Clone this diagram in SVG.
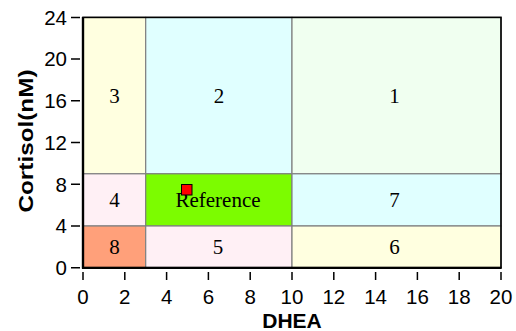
<svg xmlns="http://www.w3.org/2000/svg" width="516" height="331" viewBox="0 0 516 331">
<style>
.cell{stroke:#808080;stroke-width:1.2}
.lbl{font-family:"Liberation Serif","Times New Roman",serif;font-size:21px;text-anchor:middle;fill:#000}
.tk{stroke:#000;stroke-width:1.5}
.tl{font-family:"Liberation Sans",Arial,sans-serif;font-size:20.5px;fill:#000}
.ttl{font-family:"Liberation Sans",Arial,sans-serif;font-size:21px;font-weight:bold;fill:#000;text-anchor:middle}
</style>
<rect width="516" height="331" fill="#fff"/>
<g id="region-3"><rect class="cell" x="83" y="17.4" width="62.7" height="156.4" fill="#FFFFE0"/><text class="lbl" x="114.4" y="103">3</text></g>
<g id="region-2"><rect class="cell" x="145.7" y="17.4" width="146.3" height="156.4" fill="#E0FFFF"/><text class="lbl" x="218.9" y="103">2</text></g>
<g id="region-1"><rect class="cell" x="292" y="17.4" width="209" height="156.4" fill="#F0FFF0"/><text class="lbl" x="394.5" y="103">1</text></g>
<g id="region-4"><rect class="cell" x="83" y="173.8" width="62.7" height="52.2" fill="#FFF0F5"/><text class="lbl" x="114.4" y="207">4</text></g>
<g id="region-reference"><rect class="cell" x="145.7" y="173.8" width="146.3" height="52.2" fill="#7CFC00"/><text class="lbl" x="218" y="207">Reference</text></g>
<g id="region-7"><rect class="cell" x="292" y="173.8" width="209" height="52.2" fill="#E0FFFF"/><text class="lbl" x="394.5" y="207">7</text></g>
<g id="region-8"><rect class="cell" x="83" y="226" width="62.7" height="41.7" fill="#FFA07A"/><text class="lbl" x="114.4" y="254">8</text></g>
<g id="region-5"><rect class="cell" x="145.7" y="226" width="146.3" height="41.7" fill="#FFF0F5"/><text class="lbl" x="218" y="254">5</text></g>
<g id="region-6"><rect class="cell" x="292" y="226" width="209" height="41.7" fill="#FFFFE0"/><text class="lbl" x="394.5" y="254">6</text></g>
<g id="reference-point"><rect x="181.5" y="184.5" width="10.5" height="10.5" fill="#FF0000" stroke="#000" stroke-width="1"/></g>
<g id="frame"><rect x="83" y="17.4" width="418" height="250.3" fill="none" stroke="#000" stroke-width="1.6"/><line x1="83" y1="17" x2="83" y2="268.5" stroke="#000" stroke-width="2.4"/><line x1="82" y1="267.9" x2="501.5" y2="267.9" stroke="#000" stroke-width="2.4"/></g>
<g id="y-axis">
<path class="tk" d="M71 267.7H80M71 226H80M71 184.3H80M71 142.5H80M71 100.8H80M71 59.1H80M71 17.4H80"/>
<g class="tl" text-anchor="end">
<text x="67" y="275">0</text><text x="67" y="233.3">4</text><text x="67" y="191.6">8</text><text x="67" y="149.8">12</text><text x="67" y="108.1">16</text><text x="67" y="66.4">20</text><text x="67" y="24.7">24</text>
</g>
<text class="ttl" transform="translate(33 141) rotate(-90)" textLength="143" lengthAdjust="spacingAndGlyphs">Cortisol(nM)</text>
</g>
<g id="x-axis">
<path class="tk" d="M83 272V280M124.8 272V280M166.6 272V280M208.4 272V280M250.2 272V280M292 272V280M333.8 272V280M375.6 272V280M417.4 272V280M459.2 272V280M501 272V280"/>
<g class="tl" text-anchor="middle">
<text x="83" y="303.5">0</text><text x="124.8" y="303.5">2</text><text x="166.6" y="303.5">4</text><text x="208.4" y="303.5">6</text><text x="250.2" y="303.5">8</text><text x="292" y="303.5">10</text><text x="333.8" y="303.5">12</text><text x="375.6" y="303.5">14</text><text x="417.4" y="303.5">16</text><text x="459.2" y="303.5">18</text><text x="501" y="303.5">20</text>
</g>
<text class="ttl" x="292" y="328">DHEA</text>
</g>
</svg>
